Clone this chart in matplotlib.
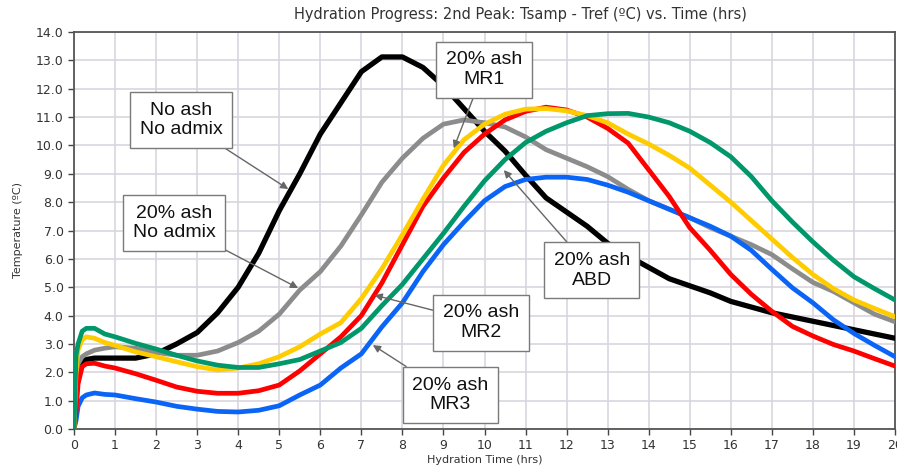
import matplotlib
matplotlib.use("Agg")
import matplotlib.pyplot as plt

# Hydration time grid (hrs) shared by all mixes
hours = [0, 0.05, 0.1, 0.2, 0.3, 0.5, 0.75, 1.0, 1.5, 2.0, 2.5, 3.0, 3.5, 4.0, 4.5,
         5.0, 5.5, 6.0, 6.5, 7.0, 7.5, 8.0, 8.5, 9.0, 9.5, 10.0, 10.5, 11.0, 11.5,
         12.0, 12.5, 13.0, 13.5, 14.0, 14.5, 15.0, 15.5, 16.0, 16.5, 17.0, 17.5,
         18.0, 18.5, 19.0, 19.5, 20.0]

# Tsamp - Tref (ºC) for each mix
no_ash = [0.0, 1.5, 2.1, 2.4, 2.45, 2.5, 2.5, 2.5, 2.5, 2.65, 3.0, 3.4, 4.1, 5.0, 6.2,
          7.7, 9.0, 10.4, 11.5, 12.6, 13.12, 13.12, 12.75, 12.1, 11.3, 10.5, 9.8, 8.95,
          8.15, 7.65, 7.15, 6.55, 6.1, 5.7, 5.3, 5.05, 4.8, 4.5, 4.3, 4.1, 3.95, 3.8,
          3.65, 3.5, 3.35, 3.2]
ash_no_admix = [0.0, 1.8, 2.3, 2.55, 2.65, 2.78, 2.85, 2.9, 2.85, 2.7, 2.6, 2.6, 2.75,
                3.05, 3.45, 4.05, 4.9, 5.55, 6.45, 7.55, 8.7, 9.55, 10.25, 10.75, 10.9,
                10.8, 10.65, 10.3, 9.85, 9.55, 9.25, 8.9, 8.45, 8.05, 7.75, 7.45, 7.1,
                6.8, 6.5, 6.15, 5.65, 5.17, 4.85, 4.45, 4.05, 3.78]
ash_mr1 = [0.0, 2.0, 2.8, 3.15, 3.25, 3.2, 3.05, 2.95, 2.72, 2.55, 2.37, 2.2, 2.08, 2.15,
           2.3, 2.55, 2.9, 3.35, 3.75, 4.6, 5.65, 6.85, 8.1, 9.3, 10.2, 10.75, 11.1,
           11.28, 11.3, 11.22, 11.05, 10.8, 10.4, 10.05, 9.65, 9.2, 8.6, 8.0, 7.35, 6.7,
           6.05, 5.45, 4.95, 4.55, 4.25, 3.96]
ash_mr2 = [0.0, 0.6, 1.6, 2.2, 2.3, 2.32, 2.22, 2.15, 1.95, 1.72, 1.48, 1.33, 1.26, 1.26,
           1.35, 1.55, 2.05, 2.65, 3.25, 4.0, 5.15, 6.5, 7.85, 8.85, 9.75, 10.4, 10.9,
           11.2, 11.35, 11.25, 11.0, 10.6, 10.08, 9.14, 8.2, 7.1, 6.3, 5.45, 4.75, 4.15,
           3.62, 3.28, 2.98, 2.75, 2.48, 2.22]
ash_abd = [0.0, 2.6, 3.0, 3.45, 3.55, 3.55, 3.35, 3.25, 3.02, 2.82, 2.6, 2.4, 2.25, 2.17,
           2.17, 2.3, 2.45, 2.75, 3.05, 3.55, 4.35, 5.1, 6.0, 6.9, 7.85, 8.75, 9.5, 10.1,
           10.5, 10.8, 11.05, 11.12, 11.13, 11.0, 10.8, 10.5, 10.1, 9.6, 8.9, 8.05, 7.3,
           6.6, 5.95, 5.37, 4.95, 4.55]
ash_mr3 = [0.0, 0.3, 0.8, 1.1, 1.2, 1.27, 1.22, 1.2, 1.07, 0.95, 0.8, 0.7, 0.62, 0.6,
           0.66, 0.82, 1.2, 1.55, 2.15, 2.65, 3.6, 4.45, 5.55, 6.5, 7.3, 8.05, 8.55, 8.8,
           8.88, 8.88, 8.8, 8.6, 8.35, 8.05, 7.75, 7.45, 7.15, 6.8, 6.3, 5.63, 4.98,
           4.45, 3.85, 3.37, 2.95, 2.55]

series = [
    (no_ash, "black", 3.8),
    (ash_no_admix, "#8c8c8c", 3.4),
    (ash_mr3, "#0a64f5", 3.4),
    (ash_mr2, "#ff0000", 3.4),
    (ash_mr1, "#ffcc00", 3.4),
    (ash_abd, "#00976a", 3.4),
]

# label text, arrow tip (hrs, ºC), box centre (hrs, ºC)
labels = ["No ash\nNo admix", "20% ash\nNo admix", "20% ash\nMR1",
          "20% ash\nABD", "20% ash\nMR2", "20% ash\nMR3"]
tips = [(5.22, 8.46), (5.46, 4.97), (9.25, 9.9), (10.47, 9.13), (7.32, 4.72), (7.28, 2.96)]
boxes = [(2.61, 10.9), (2.44, 7.26), (9.99, 12.67), (12.61, 5.6), (9.92, 3.75), (9.17, 1.2)]

fig = plt.figure(figsize=(8.97, 4.74), dpi=100)
ax = fig.add_axes([74 / 897, 45 / 474, 821 / 897, 397 / 474])

for vals, col, lw in series:
    ax.plot(hours, vals, color=col, lw=lw, solid_capstyle="round", zorder=3)

for text, tip, box in zip(labels, tips, boxes):
    ax.annotate(text, xy=tip, xytext=box, ha="center", va="center",
                fontsize=14, linespacing=1.2, color="#111111", zorder=5,
                family="Liberation Sans",
                bbox=dict(boxstyle="square,pad=0.5", fc="white", ec="#7a7a7a", lw=1),
                arrowprops=dict(arrowstyle="-|>", color="#666666", lw=1,
                                mutation_scale=11, shrinkA=0, shrinkB=0))

ax.set_xlim(0, 20)
ax.set_ylim(0, 14)
ax.set_xticks(range(0, 21))
ax.set_yticks(range(0, 15))
ax.set_yticklabels([f"{v:.1f}" for v in range(0, 15)])
ax.grid(True, color="#d9d5df", lw=1.2, zorder=0)
ax.set_axisbelow(True)
ax.tick_params(direction="out", length=4, width=1, colors="#444444",
               labelcolor="#333333", labelsize=9)
for s in ax.spines.values():
    s.set_color("#555555")
    s.set_linewidth(1.3)

ax.set_xlabel("Hydration Time (hrs)", fontsize=8, color="#333333", labelpad=2)
ax.set_ylabel("Temperature (ºC)", fontsize=8, color="#333333", labelpad=9)
fig.text(520 / 897, 1 - 15 / 474,
         "Hydration Progress: 2nd Peak: Tsamp - Tref (ºC) vs. Time (hrs)",
         ha="center", va="center", fontsize=10.5, color="#333333")

fig.savefig("out.png", dpi=100, facecolor="white")
